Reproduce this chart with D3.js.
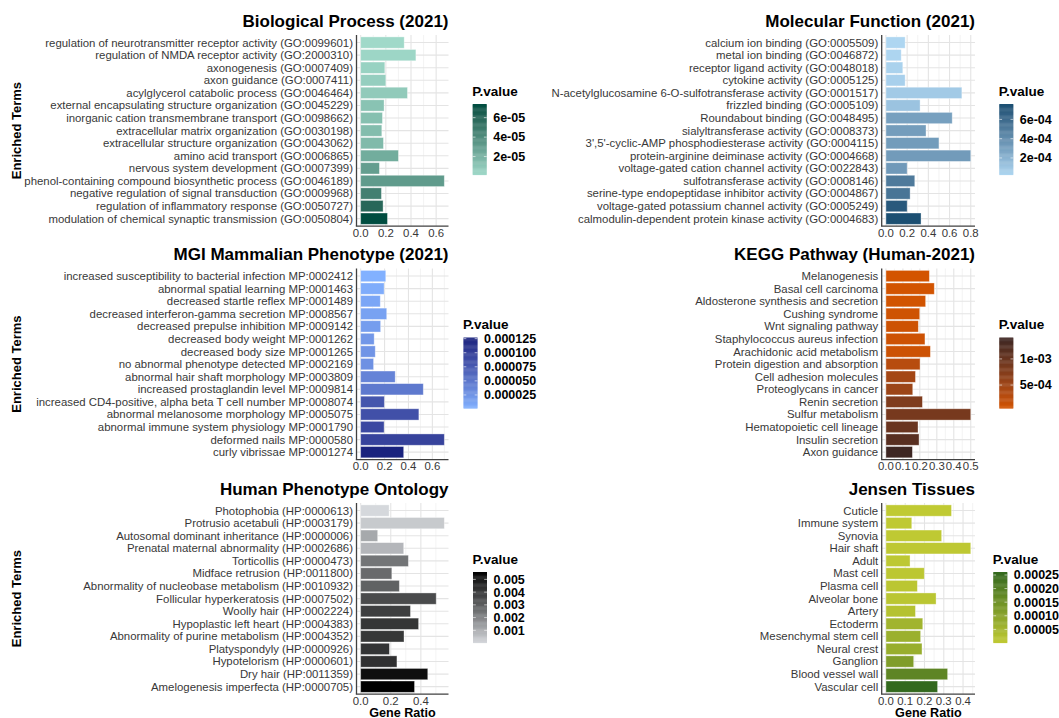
<!DOCTYPE html>
<html>
<head>
<meta charset="utf-8">
<script src="https://cdn.jsdelivr.net/npm/d3@7"></script>
<style>
  body { margin: 0; background: #fff; }
  svg { display: block; }
  text { font-family: "Liberation Sans", Arial, Helvetica, sans-serif; }
</style>
</head>
<body>
<svg id="chart" width="1059" height="718"></svg>
<script>
// ---------- data: Enrichr results (gene ratio + p-value per term) ----------
const bpTerms = [
  "regulation of neurotransmitter receptor activity (GO:0099601)",
  "regulation of NMDA receptor activity (GO:2000310)",
  "axonogenesis (GO:0007409)",
  "axon guidance (GO:0007411)",
  "acylglycerol catabolic process (GO:0046464)",
  "external encapsulating structure organization (GO:0045229)",
  "inorganic cation transmembrane transport (GO:0098662)",
  "extracellular matrix organization (GO:0030198)",
  "extracellular structure organization (GO:0043062)",
  "amino acid transport (GO:0006865)",
  "nervous system development (GO:0007399)",
  "phenol-containing compound biosynthetic process (GO:0046189)",
  "negative regulation of signal transduction (GO:0009968)",
  "regulation of inflammatory response (GO:0050727)",
  "modulation of chemical synaptic transmission (GO:0050804)"
];
const bpRatio = [0.346, 0.439, 0.192, 0.200, 0.372, 0.186, 0.173, 0.168, 0.181, 0.300, 0.149, 0.665, 0.165, 0.178, 0.213];
const bpPval = [1.4e-6, 2.9e-6, 5.0e-6, 6.5e-6, 8.7e-6, 1.23e-5, 1.37e-5, 1.52e-5, 1.66e-5, 2.32e-5, 3.04e-5, 3.19e-5, 4.64e-5, 5.95e-5, 7.4e-5];
const bpLegendTicks = [2e-5, 4e-5, 6e-5];

const mfTerms = [
  "calcium ion binding (GO:0005509)",
  "metal ion binding (GO:0046872)",
  "receptor ligand activity (GO:0048018)",
  "cytokine activity (GO:0005125)",
  "N-acetylglucosamine 6-O-sulfotransferase activity (GO:0001517)",
  "frizzled binding (GO:0005109)",
  "Roundabout binding (GO:0048495)",
  "sialyltransferase activity (GO:0008373)",
  "3',5'-cyclic-AMP phosphodiesterase activity (GO:0004115)",
  "protein-arginine deiminase activity (GO:0004668)",
  "voltage-gated cation channel activity (GO:0022843)",
  "sulfotransferase activity (GO:0008146)",
  "serine-type endopeptidase inhibitor activity (GO:0004867)",
  "voltage-gated potassium channel activity (GO:0005249)",
  "calmodulin-dependent protein kinase activity (GO:0004683)"
];
const mfRatio = [0.181, 0.144, 0.159, 0.181, 0.716, 0.322, 0.625, 0.378, 0.500, 0.800, 0.200, 0.272, 0.228, 0.200, 0.331];
const mfPval = [2.6e-5, 3.3e-5, 4.8e-5, 5.5e-5, 8.5e-5, 1.21e-4, 3.05e-4, 3.2e-4, 3.27e-4, 3.3e-4, 3.4e-4, 5.1e-4, 5.4e-4, 7.0e-4, 7.6e-4];
const mfLegendTicks = [2e-4, 4e-4, 6e-4];

const mgiTerms = [
  "increased susceptibility to bacterial infection MP:0002412",
  "abnormal spatial learning MP:0001463",
  "decreased startle reflex MP:0001489",
  "decreased interferon-gamma secretion MP:0008567",
  "decreased prepulse inhibition MP:0009142",
  "decreased body weight MP:0001262",
  "decreased body size MP:0001265",
  "no abnormal phenotype detected MP:0002169",
  "abnormal hair shaft morphology MP:0003809",
  "increased prostaglandin level MP:0009814",
  "increased CD4-positive, alpha beta T cell number MP:0008074",
  "abnormal melanosome morphology MP:0005075",
  "abnormal immune system physiology MP:0001790",
  "deformed nails MP:0000580",
  "curly vibrissae MP:0001274"
];
const mgiRatio = [0.210, 0.196, 0.164, 0.218, 0.167, 0.113, 0.122, 0.108, 0.289, 0.524, 0.198, 0.487, 0.196, 0.700, 0.360];
const mgiPval = [1.5e-6, 5.3e-6, 1.03e-5, 1.4e-5, 1.78e-5, 2.28e-5, 2.53e-5, 2.79e-5, 3.92e-5, 4.79e-5, 7.93e-5, 8.43e-5, 9.19e-5, 9.69e-5, 1.27e-4];
const mgiLegendTicks = [0.000025, 0.00005, 0.000075, 0.0001, 0.000125];

const keggTerms = [
  "Melanogenesis", "Basal cell carcinoma", "Aldosterone synthesis and secretion",
  "Cushing syndrome", "Wnt signaling pathway", "Staphylococcus aureus infection",
  "Arachidonic acid metabolism", "Protein digestion and absorption", "Cell adhesion molecules",
  "Proteoglycans in cancer", "Renin secretion", "Sulfur metabolism",
  "Hematopoietic cell lineage", "Insulin secretion", "Axon guidance"
];
const keggRatio = [0.256, 0.285, 0.234, 0.199, 0.191, 0.230, 0.262, 0.201, 0.174, 0.158, 0.215, 0.500, 0.189, 0.195, 0.156];
const keggPval = [5.7e-5, 6.4e-5, 7.1e-5, 9.8e-5, 1.04e-4, 1.11e-4, 1.18e-4, 3.01e-4, 4.63e-4, 5.31e-4, 8.01e-4, 8.69e-4, 1.004e-3, 1.166e-3, 1.41e-3];
const keggLegendTicks = [5e-4, 1e-3];

const hpoTerms = [
  "Photophobia (HP:0000613)",
  "Protrusio acetabuli (HP:0003179)",
  "Autosomal dominant inheritance (HP:0000006)",
  "Prenatal maternal abnormality (HP:0002686)",
  "Torticollis (HP:0000473)",
  "Midface retrusion (HP:0011800)",
  "Abnormality of nucleobase metabolism (HP:0010932)",
  "Follicular hyperkeratosis (HP:0007502)",
  "Woolly hair (HP:0002224)",
  "Hypoplastic left heart (HP:0004383)",
  "Abnormality of purine metabolism (HP:0004352)",
  "Platyspondyly (HP:0000926)",
  "Hypotelorism (HP:0000601)",
  "Dry hair (HP:0011359)",
  "Amelogenesis imperfecta (HP:0000705)"
];
const hpoRatio = [0.189, 0.556, 0.113, 0.286, 0.317, 0.207, 0.257, 0.502, 0.331, 0.385, 0.288, 0.191, 0.241, 0.446, 0.358];
const hpoPval = [3e-5, 3.6e-4, 1.14e-3, 8.1e-4, 2.42e-3, 2.69e-3, 2.92e-3, 3.53e-3, 3.86e-3, 4.14e-3, 4.08e-3, 4.19e-3, 4.3e-3, 5.3e-3, 5.58e-3];
const hpoLegendTicks = [0.001, 0.002, 0.003, 0.004, 0.005];

const jensenTerms = [
  "Cuticle", "Immune system", "Synovia", "Hair shaft", "Adult", "Mast cell",
  "Plasma cell", "Alveolar bone", "Artery", "Ectoderm", "Mesenchymal stem cell",
  "Neural crest", "Ganglion", "Blood vessel wall", "Vascular cell"
];
const jensenRatio = [0.340, 0.134, 0.289, 0.440, 0.125, 0.199, 0.163, 0.260, 0.153, 0.191, 0.180, 0.187, 0.144, 0.320, 0.268];
const jensenPval = [1e-6, 2.3e-6, 3.6e-6, 4.9e-6, 6.2e-6, 8.8e-6, 1.01e-5, 1.14e-5, 2.18e-5, 5.82e-5, 6.86e-5, 7.38e-5, 1.18e-4, 1.83e-4, 2.61e-4];
const jensenLegendTicks = [0.00005, 0.0001, 0.00015, 0.0002, 0.00025];

// ---------- formatting helpers ----------
const sci = v => d3.format(".0e")(v).replace(/e([+-])(\d)$/, "e$10$2");
const fixed = n => v => v.toFixed(n);

// ---------- panel definitions ----------
const panels = [
  { title: "Biological Process (2021)", terms: bpTerms, ratio: bpRatio, pval: bpPval,
    low: "#a0d9c9", high: "#004d40", step: 0.2, legendTicks: bpLegendTicks, legendFmt: sci,
    col: 0, row: 0, legendX: 472.7 },
  { title: "Molecular Function (2021)", terms: mfTerms, ratio: mfRatio, pval: mfPval,
    low: "#aed6f1", high: "#1b4f72", step: 0.2, legendTicks: mfLegendTicks, legendFmt: sci,
    col: 1, row: 0, legendX: 999.3 },
  { title: "MGI Mammalian Phenotype (2021)", terms: mgiTerms, ratio: mgiRatio, pval: mgiPval,
    low: "#82b1ff", high: "#1a237e", step: 0.2, legendTicks: mgiLegendTicks, legendFmt: fixed(6),
    col: 0, row: 1, legendX: 463.5 },
  { title: "KEGG Pathway (Human-2021)", terms: keggTerms, ratio: keggRatio, pval: keggPval,
    low: "#d35400", high: "#3e2723", step: 0.1, legendTicks: keggLegendTicks, legendFmt: sci,
    col: 1, row: 1, legendX: 999.3 },
  { title: "Human Phenotype Ontology", terms: hpoTerms, ratio: hpoRatio, pval: hpoPval,
    low: "#d5d8dc", high: "#000000", step: 0.2, legendTicks: hpoLegendTicks, legendFmt: fixed(3),
    col: 0, row: 2, legendX: 473 },
  { title: "Jensen Tissues", terms: jensenTerms, ratio: jensenRatio, pval: jensenPval,
    low: "#c0ca33", high: "#33691e", step: 0.1, legendTicks: jensenLegendTicks, legendFmt: fixed(5),
    col: 1, row: 2, legendX: 993.3 }
];

// ---------- layout ----------
const rowTops = [35, 268.5, 503];
const pitch = 12.58;
const columns = [
  { axisX: 356.5, right: 448.5 },
  { axisX: 881.7, right: 975 }
];
const barW = 14, barH = 70.7;
const axisTextColour = "#383838";

const svg = d3.select("#chart");
svg.append("rect").attr("width", 1059).attr("height", 718).attr("fill", "#fff");

function drawPanel(p) {
  const g = svg.append("g");
  const { axisX, right } = columns[p.col];
  const top = rowTops[p.row];
  const n = p.terms.length;
  const bottom = top + (n - 1 + 1.2) * pitch;

  const maxV = d3.max(p.ratio);
  const x = d3.scaleLinear().domain([-0.05 * maxV, 1.05 * maxV]).range([axisX, right]);
  const y = d3.scalePoint().domain(p.terms).range([top, bottom]).padding(0.6);
  const step = y.step();
  const color = d3.scaleLinear().domain(d3.extent(p.pval)).range([p.low, p.high])
    .interpolate(d3.interpolateLab);

  const [d0, d1] = x.domain();
  const majors = d3.range(0, d1 + 1e-9, p.step).filter(v => v >= d0);
  const minors = d3.range(-p.step / 2, d1 + 1e-9, p.step).filter(v => v >= d0 && v <= d1);

  // grid
  const grid = g.append("g");
  grid.selectAll(".minor").data(minors).join("line")
    .attr("x1", d => x(d)).attr("x2", d => x(d)).attr("y1", top).attr("y2", bottom)
    .attr("stroke", "#ebebeb").attr("stroke-width", 0.6);
  grid.selectAll(".major").data(majors).join("line")
    .attr("x1", d => x(d)).attr("x2", d => x(d)).attr("y1", top).attr("y2", bottom)
    .attr("stroke", "#e4e4e4").attr("stroke-width", 1.1);
  grid.selectAll(".hgrid").data(p.terms).join("line")
    .attr("x1", axisX).attr("x2", right).attr("y1", d => y(d)).attr("y2", d => y(d))
    .attr("stroke", "#e4e4e4").attr("stroke-width", 1.1);

  // bars
  g.selectAll(".bar").data(p.terms).join("rect")
    .attr("x", x(0))
    .attr("y", d => y(d) - step * 0.45)
    .attr("width", (d, i) => x(p.ratio[i]) - x(0))
    .attr("height", step * 0.9)
    .attr("fill", (d, i) => color(p.pval[i]))
    .attr("stroke", "#ffffff").attr("stroke-opacity", 0.45).attr("stroke-width", 0.8);

  // axis lines
  g.append("line").attr("x1", axisX).attr("x2", axisX).attr("y1", top).attr("y2", bottom)
    .attr("stroke", "#404040").attr("stroke-width", 1.3);
  g.append("line").attr("x1", axisX - 0.65).attr("x2", right).attr("y1", bottom).attr("y2", bottom)
    .attr("stroke", "#404040").attr("stroke-width", 1.3);

  // category labels
  g.selectAll(".lab").data(p.terms).join("text")
    .attr("x", axisX - 3.5).attr("y", d => y(d)).attr("dy", "0.35em")
    .attr("text-anchor", "end").attr("font-size", 11.4).attr("fill", axisTextColour)
    .text(d => d);

  // x tick labels
  g.selectAll(".tick").data(majors).join("text")
    .attr("x", d => x(d)).attr("y", bottom + 10.5)
    .attr("text-anchor", "middle").attr("font-size", 11.4).attr("fill", axisTextColour)
    .text(d => d.toFixed(1));

  // title
  g.append("text").attr("x", right).attr("y", top - 8.5)
    .attr("text-anchor", "end").attr("font-size", 17).attr("font-weight", "bold")
    .attr("fill", "#000").text(p.title);

  // y axis title (left column only)
  if (p.col === 0) {
    g.append("text")
      .attr("transform", `translate(16,${(top + bottom) / 2}) rotate(-90)`)
      .attr("text-anchor", "middle").attr("dy", "0.35em")
      .attr("font-size", 13).attr("font-weight", "bold").attr("fill", "#000")
      .text("Enriched Terms");
  }
  // x axis title (bottom row only)
  if (p.row === 2) {
    g.append("text").attr("x", (axisX + right) / 2).attr("y", 716.5)
      .attr("text-anchor", "middle").attr("font-size", 12.6).attr("font-weight", "bold")
      .attr("fill", "#000").text("Gene Ratio");
  }

  // colour bar legend
  const lx = p.legendX;
  const lTop = top + 69;
  const lBottom = lTop + barH;
  const ly = d3.scaleLinear().domain(d3.extent(p.pval)).range([lBottom, lTop]);
  const leg = g.append("g");
  leg.append("text").attr("x", lx - 0.5).attr("y", lTop - 8.3)
    .attr("font-size", 13.5).attr("font-weight", "bold").attr("fill", "#000").text("P.value");
  const nStrips = 80;
  const strips = d3.range(nStrips);
  leg.selectAll(".strip").data(strips).join("rect")
    .attr("x", lx).attr("width", barW)
    .attr("y", i => lBottom - (i + 1) * barH / nStrips)
    .attr("height", barH / nStrips + 0.4)
    .attr("fill", i => color(ly.invert(lBottom - (i + 0.5) * barH / nStrips)));
  leg.selectAll(".tl").data(p.legendTicks).join("line")
    .attr("x1", lx).attr("x2", lx + barW * 0.2).attr("y1", d => ly(d)).attr("y2", d => ly(d))
    .attr("stroke", "#fff").attr("stroke-width", 0.6);
  leg.selectAll(".tr").data(p.legendTicks).join("line")
    .attr("x1", lx + barW * 0.8).attr("x2", lx + barW).attr("y1", d => ly(d)).attr("y2", d => ly(d))
    .attr("stroke", "#fff").attr("stroke-width", 0.6);
  leg.selectAll(".ll").data(p.legendTicks).join("text")
    .attr("x", lx + barW + 6.5).attr("y", d => ly(d)).attr("dy", "0.35em")
    .attr("font-size", 12.5).attr("font-weight", "bold").attr("fill", "#000")
    .text(d => p.legendFmt(d));
}

panels.forEach(drawPanel);
</script>
</body>
</html>
